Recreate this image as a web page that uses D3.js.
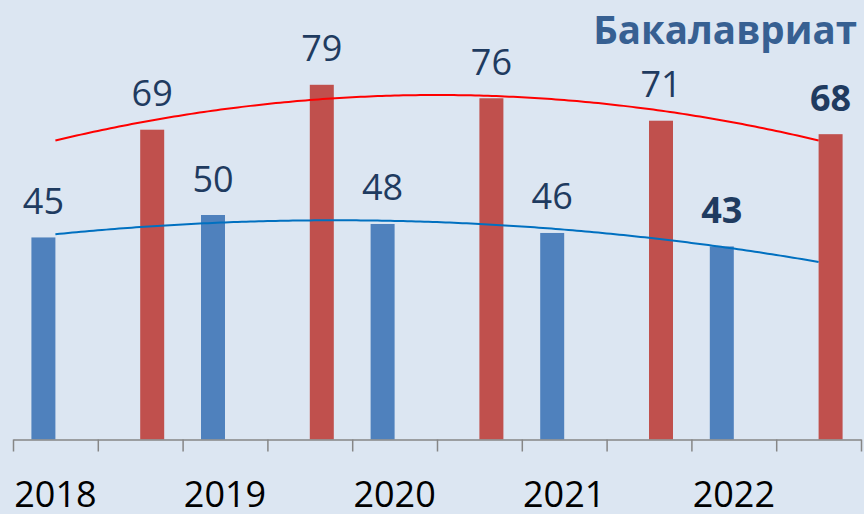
<!DOCTYPE html>
<html><head><meta charset="utf-8">
<script src="https://cdn.jsdelivr.net/npm/d3@7"></script>
<style>html,body{margin:0;padding:0;background:#dce6f2;}svg{display:block;}</style>
</head><body>
<script>
const categories = ["2018","","2019","","2020","","2021","","2022",""];
const seriesKeys = ["blue","red"];
const blueValues = [45,null,50,null,48,null,46,null,43,null];
const redValues  = [null,69,null,79,null,76,null,71,null,68];
const boldIndex = {blue: 8, red: 9};
const title = "Бакалавриат";

const W = 864, H = 514;
const colors = {blue:"#4f81bd", red:"#c0504d"};
const trendColors = {blue:"#0070c0", red:"#ff0000"};
const values = {blue: blueValues, red: redValues};

const svg = d3.select("body").append("svg").attr("width",W).attr("height",H);
svg.append("rect").attr("width",W).attr("height",H).attr("fill","#dce6f2");

const idx = d3.range(categories.length);
const x = d3.scaleBand().domain(idx).range([13,861]).padding(0);
const xSub = d3.scaleBand().domain(seriesKeys).range([0,x.bandwidth()]).paddingInner(0).paddingOuter(0.767);
const y = d3.scaleLinear().domain([0,100]).range([439.5,-9.5]);
const xLin = d3.scaleLinear().domain([0,categories.length]).range([13,861]);

const fontFam = "'Open Sans', Calibri, sans-serif";

// bars
seriesKeys.forEach(k=>{
  const data = idx.filter(i=>values[k][i]!=null).map(i=>({i, v: values[k][i]}));
  svg.append("g").selectAll("rect").data(data).join("rect")
    .attr("x", d=>x(d.i)+xSub(k))
    .attr("width", xSub.bandwidth())
    .attr("y", d=>y(d.v))
    .attr("height", d=>y(0)-y(d.v))
    .attr("fill", colors[k]);
  svg.append("g").selectAll("text").data(data).join("text")
    .attr("x", d=>x(d.i)+xSub(k)+xSub.bandwidth()/2)
    .attr("y", d=>y(d.v)-23.5)
    .attr("text-anchor","middle")
    .attr("font-family", fontFam)
    .attr("font-size", 36)
    .attr("font-weight", d=>d.i===boldIndex[k]?"bold":"normal")
    .attr("fill","#1f3b60")
    .text(d=>d.v);
});

// quadratic trendlines (least squares on category number 1..n)
function quadFit(pts){
  let s=[0,0,0,0,0], t=[0,0,0];
  pts.forEach(([px,py])=>{
    for(let p=0;p<5;p++) s[p]+=Math.pow(px,p);
    for(let p=0;p<3;p++) t[p]+=Math.pow(px,p)*py;
  });
  const M=[[s[0],s[1],s[2],t[0]],[s[1],s[2],s[3],t[1]],[s[2],s[3],s[4],t[2]]];
  for(let c=0;c<3;c++){
    let piv=c; for(let r=c+1;r<3;r++) if(Math.abs(M[r][c])>Math.abs(M[piv][c])) piv=r;
    [M[c],M[piv]]=[M[piv],M[c]];
    for(let r=0;r<3;r++){ if(r===c) continue; const f=M[r][c]/M[c][c]; for(let k=c;k<4;k++) M[r][k]-=f*M[c][k]; }
  }
  const a=M[0][3]/M[0][0], b=M[1][3]/M[1][1], cc=M[2][3]/M[2][2];
  return xx=>a+b*xx+cc*xx*xx;
}
const line = d3.line().x(d=>xLin(d[0]-0.5)).y(d=>y(d[1]));
seriesKeys.forEach(k=>{
  const pts = idx.filter(i=>values[k][i]!=null).map(i=>[i+1, values[k][i]]);
  const f = quadFit(pts);
  const samples = d3.range(1, categories.length+0.001, 0.05).map(t=>[t, f(t)]);
  svg.append("path").datum(samples).attr("d", line)
    .attr("fill","none").attr("stroke", trendColors[k]).attr("stroke-width",2);
});

// axis: line + ticks at band boundaries
const axisTicks = d3.axisBottom(xLin).tickValues(d3.range(categories.length+1)).tickSize(12).tickSizeOuter(0).tickFormat("");
const gTicks = svg.append("g").attr("transform",`translate(0,${y(0)})`).call(axisTicks);
gTicks.selectAll("path,line").attr("stroke","#868686").attr("stroke-width",1.5);

const axisLabels = d3.axisBottom(x).tickSize(0).tickPadding(41.5).tickFormat(i=>categories[i]);
const gLab = svg.append("g").attr("transform",`translate(0,${y(0)})`).call(axisLabels);
gLab.select(".domain").remove();
gLab.selectAll("text").attr("font-family",fontFam).attr("font-size",36).attr("fill","#000");

// title
svg.append("text").attr("x",857).attr("y",44).attr("text-anchor","end")
  .attr("font-family",fontFam).attr("font-size",38.5).attr("font-weight","bold")
  .attr("fill","#376092").text(title);
</script>
</body></html>
